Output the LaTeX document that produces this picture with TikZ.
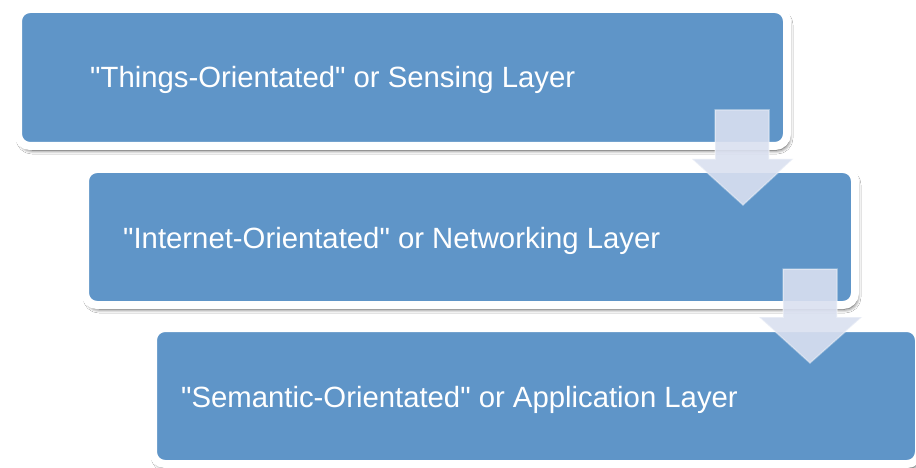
\documentclass[tikz,border=0pt]{standalone}
\usepackage{fontspec}
\setmainfont{Liberation Sans}[Ligatures=TeXOff]
\usetikzlibrary{shadows.blur,calc}
\definecolor{boxblue}{HTML}{5F95C8}
\definecolor{arrowfill}{HTML}{DAE0F0}
\tikzset{
  layerbox/.style={draw=white, line width=8pt, fill=boxblue, rounded corners=12pt,
    inner sep=0pt,
    blur shadow={shadow xshift=2pt, shadow yshift=-4pt, shadow blur steps=6, shadow opacity=75, shadow blur radius=4pt}},
  layertext/.style={anchor=base west, inner sep=0pt, text=white, font=\fontsize{29.3}{33}\selectfont},
  downarrow/.style={fill=arrowfill, fill opacity=0.9, draw=white, draw opacity=0.35, line width=1.5pt, line join=miter}
}
\begin{document}
\begin{tikzpicture}[x=1pt,y=-1pt]
\path[use as bounding box] (0,0) rectangle (916,468);
\fill[white] (0,0) rectangle (916,468);
% boxes
\node[layerbox, minimum width=769pt, minimum height=137pt] (b1) at (402.5,77.5) {};
\node[layerbox, minimum width=770pt, minimum height=136pt] (b2) at (470,237) {};
\node[layerbox, minimum width=766pt, minimum height=136pt] (b3) at (536,396) {};
% texts
\node[layertext] (t1) at (90,88) {"Things-Orientated" or Sensing Layer};
\node[layertext] (t2) at (123,248) {"Internet-Orientated" or Networking Layer};
\node[layertext] (t3) at (181,407) {"Semantic-Orientated" or Application Layer};
% arrows
\coordinate (a1) at (742,110);
\coordinate (a2) at (810,269);
\draw[downarrow] ($(a1)+(-27,0)$) -- ($(a1)+(27,0)$) -- ($(a1)+(27,49)$) -- ($(a1)+(51,49)$)
  -- ($(a1)+(1,95)$) -- ($(a1)+(-50,49)$) -- ($(a1)+(-27,49)$) -- cycle;
\draw[downarrow] ($(a2)+(-27,0)$) -- ($(a2)+(27,0)$) -- ($(a2)+(27,48)$) -- ($(a2)+(52,48)$)
  -- ($(a2)+(0,94)$) -- ($(a2)+(-51,48)$) -- ($(a2)+(-27,48)$) -- cycle;
\end{tikzpicture}
\end{document}
